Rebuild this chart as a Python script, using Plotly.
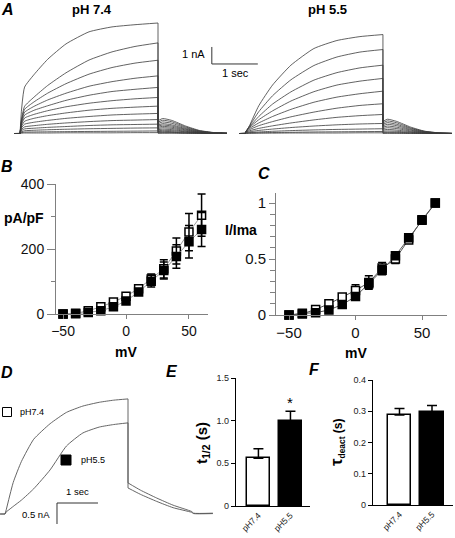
import plotly.graph_objects as go

W, H = 455, 538
FONT = "Liberation Sans, Arial, sans-serif"


def px(x):
    return x / W


def py(y):
    return 1 - y / H


# ---------------- Panel A: current families (nA vs s) ----------------
T_ACT = [0, 0.03, 0.1, 0.3, 0.6, 1.0, 1.5, 2.0, 2.5, 3.0]
T_TAIL = [3.0, 3.1, 3.3, 3.6, 3.9, 4.2, 4.5]

A74_ACT = [
    [0, 1.30, 2.73, 3.45, 4.36, 5.27, 5.98, 6.27, 6.40, 6.50],
    [0, 0.80, 1.60, 2.13, 2.82, 3.57, 4.32, 4.80, 5.12, 5.33],
    [0, 0.73, 1.42, 1.85, 2.37, 2.93, 3.49, 3.88, 4.14, 4.31],
    [0, 0.68, 1.25, 1.59, 1.97, 2.37, 2.78, 3.05, 3.25, 3.39],
    [0, 0.60, 1.08, 1.36, 1.63, 1.95, 2.25, 2.47, 2.60, 2.71],
    [0, 0.53, 0.91, 1.12, 1.34, 1.57, 1.78, 1.93, 2.04, 2.12],
    [0, 0.43, 0.72, 0.89, 1.05, 1.21, 1.37, 1.48, 1.55, 1.61],
    [0, 0.33, 0.55, 0.66, 0.77, 0.89, 1.00, 1.09, 1.14, 1.18],
    [0, 0.24, 0.39, 0.46, 0.54, 0.62, 0.70, 0.76, 0.79, 0.82],
    [0, 0.17, 0.27, 0.31, 0.36, 0.41, 0.47, 0.51, 0.53, 0.55],
    [0, 0.10, 0.16, 0.19, 0.22, 0.25, 0.28, 0.30, 0.32, 0.33],
    [0, 0.05, 0.08, 0.09, 0.10, 0.11, 0.12, 0.13, 0.14, 0.15],
    [0, 0.02, 0.03, 0.03, 0.03, 0.04, 0.04, 0.04, 0.05, 0.05],
]
A74_TAIL = [
    [0.75, 0.88, 0.77, 0.44, 0.18, 0.06, 0.02],
    [0.66, 0.78, 0.69, 0.39, 0.16, 0.05, 0.02],
    [0.58, 0.68, 0.60, 0.34, 0.14, 0.05, 0.01],
    [0.49, 0.58, 0.51, 0.29, 0.12, 0.04, 0.01],
    [0.43, 0.50, 0.44, 0.25, 0.10, 0.04, 0.01],
    [0.36, 0.42, 0.37, 0.21, 0.08, 0.03, 0.01],
    [0.29, 0.34, 0.30, 0.17, 0.07, 0.02, 0.01],
    [0.22, 0.26, 0.23, 0.13, 0.05, 0.02, 0.01],
    [0.16, 0.19, 0.17, 0.10, 0.04, 0.01, 0.00],
    [0.11, 0.13, 0.11, 0.07, 0.03, 0.01, 0.00],
    [0.07, 0.08, 0.07, 0.04, 0.02, 0.01, 0.00],
    [0.03, 0.04, 0.04, 0.02, 0.01, 0.00, 0.00],
    [0.02, 0.02, 0.02, 0.01, 0.00, 0.00, 0.00],
]
A55_ACT = [
    [0, 0.12, 0.47, 1.63, 2.85, 4.02, 5.00, 5.47, 5.70, 5.82],
    [0, 0.15, 0.44, 1.28, 2.22, 3.16, 4.00, 4.50, 4.79, 4.94],
    [0, 0.16, 0.40, 1.00, 1.73, 2.45, 3.14, 3.58, 3.86, 4.02],
    [0, 0.16, 0.36, 0.81, 1.33, 1.91, 2.46, 2.85, 3.08, 3.24],
    [0, 0.15, 0.30, 0.62, 1.00, 1.42, 1.84, 2.14, 2.34, 2.49],
    [0, 0.12, 0.23, 0.46, 0.70, 0.98, 1.26, 1.49, 1.65, 1.75],
    [0, 0.09, 0.16, 0.30, 0.45, 0.62, 0.80, 0.95, 1.05, 1.12],
    [0, 0.06, 0.10, 0.18, 0.26, 0.35, 0.44, 0.51, 0.56, 0.59],
    [0, 0.03, 0.05, 0.09, 0.13, 0.17, 0.21, 0.24, 0.26, 0.28],
    [0, 0.02, 0.03, 0.04, 0.06, 0.07, 0.09, 0.10, 0.11, 0.12],
    [0, 0.01, 0.01, 0.02, 0.02, 0.03, 0.03, 0.03, 0.04, 0.04],
]
A55_TAIL = [
    [0.71, 0.84, 0.71, 0.38, 0.14, 0.04, 0.01],
    [0.63, 0.74, 0.63, 0.33, 0.13, 0.04, 0.01],
    [0.54, 0.64, 0.54, 0.29, 0.11, 0.03, 0.01],
    [0.46, 0.54, 0.46, 0.24, 0.09, 0.03, 0.01],
    [0.37, 0.44, 0.37, 0.20, 0.07, 0.02, 0.00],
    [0.29, 0.34, 0.29, 0.15, 0.06, 0.02, 0.00],
    [0.20, 0.24, 0.20, 0.11, 0.04, 0.01, 0.00],
    [0.13, 0.15, 0.13, 0.07, 0.03, 0.01, 0.00],
    [0.07, 0.08, 0.07, 0.04, 0.01, 0.00, 0.00],
    [0.03, 0.04, 0.03, 0.02, 0.01, 0.00, 0.00],
    [0.01, 0.01, 0.01, 0.00, 0.00, 0.00, 0.00],
]
PH55_SHIFT = 4.89  # horizontal placement of the pH 5.5 family on the shared time axis (s)

# ---------------- Panel B: current density ----------------
MV = [-50, -40, -30, -20, -10, 0, 10, 20, 30, 40, 50, 60]
B_PH74 = [0, 2, 10, 22, 37, 55, 78, 108, 139, 194, 252, 304]
B_PH74_ERR = [1, 2, 4, 5, 6, 8, 10, 15, 28, 40, 57, 65]
B_PH55 = [0, 1, 5, 10, 22, 40, 68, 101, 134, 177, 222, 260]
B_PH55_ERR = [1, 1, 3, 4, 5, 7, 10, 18, 26, 36, 50, 52]

# ---------------- Panel C: normalized current ----------------
C_PH74 = [0, 0.01, 0.05, 0.10, 0.16, 0.22, 0.29, 0.42, 0.50, 0.67, 0.85, 1.0]
C_PH74_ERR = [0, 0.005, 0.01, 0.01, 0.02, 0.05, 0.06, 0.05, 0.04, 0.03, 0.01, 0]
C_PH55 = [0, 0.015, 0.02, 0.045, 0.093, 0.165, 0.28, 0.40, 0.53, 0.69, 0.847, 1.0]
C_PH55_ERR = [0, 0, 0.01, 0.01, 0.02, 0.03, 0.04, 0.04, 0.03, 0.02, 0.01, 0]

# ---------------- Panel D: superimposed traces ----------------
D_T_ACT = [0, 0.03, 0.2, 0.4, 0.7, 1.1, 1.5, 1.9, 2.3, 2.65, 3.0]
D_T_TAIL = [3.0, 3.3, 3.7, 4.1, 4.55, 4.6, 5.07]
D_PH74_ACT = [0, 0.10, 0.75, 1.25, 1.78, 2.15, 2.42, 2.57, 2.66, 2.71, 2.74]
D_PH74_TAIL = [0.74, 0.57, 0.38, 0.21, 0.06, 0.02, 0.02]
D_PH55_ACT = [0, 0.05, 0.18, 0.33, 0.60, 1.05, 1.62, 1.93, 2.07, 2.13, 2.17]
D_PH55_TAIL = [0.62, 0.47, 0.30, 0.15, 0.04, 0.01, 0.01]

# ---------------- Panels E, F: bars ----------------
GROUPS = ["pH7.4", "pH5.5"]
T_HALF = [0.56, 1.0]
T_HALF_ERR = [0.11, 0.11]
TAU_DEACT = [0.288, 0.297]
TAU_DEACT_ERR = [0.021, 0.021]

fig = go.Figure()


def add_family(t_act, acts, t_tail, tails, shift, xa, ya, color, width):
    """Draw a family of sweeps: straight jumps, smooth activation and tail."""
    lx, ly, ax, ay, tx, ty = [], [], [], [], [], []
    for act, tail in zip(acts, tails):
        lx += [shift + t_act[0] - 0.12, shift + t_act[0], shift + t_act[1], None,
               shift + t_act[-1], shift + t_tail[0], None]
        ly += [0, act[0], act[1], None, act[-1], tail[0], None]
        ax += [shift + t for t in t_act[1:]] + [None]
        ay += act[1:] + [None]
        tx += [shift + t for t in t_tail] + [None]
        ty += tail + [None]
    fig.add_trace(go.Scatter(x=lx, y=ly, mode="lines", xaxis=xa, yaxis=ya,
                             line=dict(color=color, width=width),
                             showlegend=False, hoverinfo="skip"))
    for xs, ys in [(ax, ay), (tx, ty)]:
        fig.add_trace(go.Scatter(x=xs, y=ys, mode="lines", xaxis=xa, yaxis=ya,
                                 line=dict(color=color, width=width, shape="spline", smoothing=0.5),
                                 showlegend=False, hoverinfo="skip"))


add_family(T_ACT, A74_ACT, T_TAIL, A74_TAIL, 0.0, "x", "y", "#3a3a3a", 0.8)
add_family(T_ACT, A55_ACT, T_TAIL, A55_TAIL, PH55_SHIFT, "x", "y", "#3a3a3a", 0.8)

# Panel B
for vals, errs, fill in [(B_PH74, B_PH74_ERR, "white"), (B_PH55, B_PH55_ERR, "black")]:
    fig.add_trace(go.Scatter(
        x=MV, y=vals, mode="lines+markers", xaxis="x2", yaxis="y2",
        line=dict(color="#9a9a9a", width=1),
        marker=dict(symbol="square", size=8, color=fill, line=dict(color="black", width=1.5)),
        error_y=dict(type="data", array=errs, color="black", thickness=1.5, width=4),
        cliponaxis=False, showlegend=False))

# Panel C
for vals, errs, fill in [(C_PH74, C_PH74_ERR, "white"), (C_PH55, C_PH55_ERR, "black")]:
    fig.add_trace(go.Scatter(
        x=MV, y=vals, mode="lines+markers", xaxis="x3", yaxis="y3",
        line=dict(color="#555555", width=1),
        marker=dict(symbol="square", size=8, color=fill, line=dict(color="black", width=1.5)),
        error_y=dict(type="data", array=errs, color="black", thickness=1.5, width=4),
        cliponaxis=False, showlegend=False))

# Panel D
add_family(D_T_ACT, [D_PH74_ACT, D_PH55_ACT], D_T_TAIL, [D_PH74_TAIL, D_PH55_TAIL],
           0.0, "x4", "y4", "#555555", 0.9)
# legend keys for D
fig.add_trace(go.Scatter(x=[None], y=[None], mode="markers", name=" ",
                         marker=dict(symbol="square", size=9, color="white",
                                     line=dict(color="black", width=1)),
                         xaxis="x4", yaxis="y4", legend="legend"))
fig.add_trace(go.Scatter(x=[None], y=[None], mode="markers", name=" ",
                         marker=dict(symbol="square", size=10, color="black",
                                     line=dict(color="black", width=1)),
                         xaxis="x4", yaxis="y4", legend="legend2"))

# Panel E
fig.add_trace(go.Bar(
    x=GROUPS, y=T_HALF, xaxis="x5", yaxis="y5", width=0.72,
    marker=dict(color=["white", "black"], line=dict(color="black", width=1.5)),
    error_y=dict(type="data", array=T_HALF_ERR, arrayminus=[0, 0], symmetric=False,
                 color="black", thickness=1.5, width=5),
    showlegend=False))

# Panel F
fig.add_trace(go.Bar(
    x=GROUPS, y=TAU_DEACT, xaxis="x6", yaxis="y6", width=0.72,
    marker=dict(color=["white", "black"], line=dict(color="black", width=1.5)),
    error_y=dict(type="data", array=TAU_DEACT_ERR, arrayminus=[0, 0], symmetric=False,
                 color="black", thickness=1.5, width=5),
    showlegend=False))

hidden = dict(visible=False, showgrid=False, zeroline=False, fixedrange=True)
line_ax = dict(showline=True, linecolor="#808080", linewidth=1, showgrid=False,
               zeroline=False, ticks="outside", tickcolor="#808080",
               tickfont=dict(family=FONT, size=14, color="#111"))
c_ax = {**line_ax, "tickfont": dict(family=FONT, size=15, color="#111")}
bar_y = dict(showline=True, linecolor="black", linewidth=1.2, showgrid=False,
             zeroline=False, tickfont=dict(family=FONT, size=9, color="#222"),
             ticks="outside", ticklen=4, tickcolor="black")
bar_x = dict(showline=True, linecolor="black", linewidth=1.2, showgrid=False,
             zeroline=False, tickfont=dict(family=FONT, size=8.5, color="#222"),
             type="category", tickangle=-45, ticks="", ticklabelstandoff=0)

fig.update_layout(
    width=W, height=H, margin=dict(l=0, r=0, t=0, b=0, autoexpand=False),
    paper_bgcolor="white", plot_bgcolor="white",
    font=dict(family=FONT, color="black"),
    # A
    xaxis=dict(domain=[0, 1], range=[-20 / 46, 435 / 46], **hidden),
    yaxis=dict(domain=[py(140), py(10)], range=[-6.5 / 17, 123.5 / 17], **hidden),
    # B
    xaxis2=dict(domain=[px(56), px(208)], range=[-55.6, 65.1], anchor="y2",
                tickvals=[-50, 0, 50], ticklen=4, **line_ax),
    yaxis2=dict(domain=[py(314), py(184)], range=[0, 400], anchor="x2",
                tickvals=[0, 200, 400], ticklen=8,
                minor=dict(tickvals=[100, 300], ticklen=4, ticks="outside", tickcolor="#808080"),
                **line_ax),
    # C
    xaxis3=dict(domain=[px(276), px(447)], range=[-59.8, 68.8], anchor="y3",
                tickvals=[-50, 0, 50], ticklen=4, **c_ax),
    yaxis3=dict(domain=[py(315), py(193)], range=[0, 1.09], anchor="x3",
                tickvals=[0, 0.5, 1], ticktext=["0", "0.5", "1"], ticklen=6,
                minor=dict(dtick=0.1, ticklen=5, ticks="outside", tickcolor="#808080"),
                **c_ax),
    # D
    xaxis4=dict(domain=[0, px(225)], range=[-5 / 41, 220 / 41], anchor="y4", **hidden),
    yaxis4=dict(domain=[py(530), py(380)], range=[-16 / 42, 134 / 42], anchor="x4", **hidden),
    # E
    xaxis5=dict(domain=[px(236), px(310)], range=[-0.70, 1.61], anchor="y5", **bar_x),
    yaxis5=dict(domain=[py(506), py(378)], range=[0, 1.5], anchor="x5",
                tickvals=[0, 0.5, 1, 1.5], ticktext=["0", "0.5", "1.0", "1.5"], **bar_y),
    # F
    xaxis6=dict(domain=[px(373), px(453)], range=[-0.815, 1.646], anchor="y6", **bar_x),
    yaxis6=dict(domain=[py(505), py(380)], range=[0, 0.4], anchor="x6",
                tickvals=[0, 0.1, 0.2, 0.3, 0.4], ticktext=["0", "0.1", "0.2", "0.3", "0.4"],
                **bar_y),
    bargap=0,
    legend=dict(x=px(-13), y=py(412), xanchor="left", yanchor="middle",
                bgcolor="rgba(0,0,0,0)", font=dict(size=9), itemwidth=30),
    legend2=dict(x=px(46), y=py(460), xanchor="left", yanchor="middle",
                 bgcolor="rgba(0,0,0,0)", font=dict(size=9), itemwidth=30),
)

# Scale bars (layout shapes in data units)
fig.add_shape(type="path", xref="x", yref="y",
              path="M 4.17 5.09 L 4.17 4.09 L 5.17 4.09",
              line=dict(color="#333", width=1))
fig.add_shape(type="path", xref="x4", yref="y4",
              path="M 2.268 0.262 L 1.268 0.262 L 1.268 -0.238",
              line=dict(color="#333", width=1))

ann = []


def label(text, x, y, size, bold=False, italic=False, xanchor="center", angle=0, color="black"):
    t = text
    if bold:
        t = "<b>" + t + "</b>"
    if italic:
        t = "<i>" + t + "</i>"
    ann.append(dict(text=t, x=px(x), y=py(y), xref="paper", yref="paper",
                    xanchor=xanchor, yanchor="middle", showarrow=False,
                    textangle=angle, font=dict(family=FONT, size=size, color=color)))


for letter, x, y in [("A", 7, 10), ("B", 7, 166), ("C", 264, 173),
                     ("D", 7, 372), ("E", 172, 371), ("F", 314, 369)]:
    label(letter, x, y, 16, bold=True, italic=True)

label("pH 7.4", 92, 10, 13, bold=True)
label("pH 5.5", 327, 10, 13, bold=True)
label("1 nA", 207, 54, 11, xanchor="right")
label("1 sec", 235, 73, 11)
label("pA/pF", 24, 218, 14, bold=True)
label("mV", 126, 352, 14, bold=True)
label("I/Ima", 241, 230, 14, bold=True)
label("mV", 356, 353, 14, bold=True)
label("pH7.4", 18, 412, 9, xanchor="left")
label("pH5.5", 79, 460, 9, xanchor="left")
label("1 sec", 77, 492, 9.5)
label("0.5 nA", 52, 514, 9.5, xanchor="right")
label("t<sub>1/2</sub> (s)", 202, 443, 15, bold=True, angle=-90)
label('<span style="font-size:17px">τ</span><sub>deact</sub> (s)', 337, 443, 12, bold=True, angle=-90)

ann.append(dict(text="*", x="pH5.5", y=T_HALF[1] + T_HALF_ERR[1], xref="x5", yref="y5",
                yanchor="bottom", showarrow=False, yshift=-2,
                font=dict(family=FONT, size=15, color="black")))

fig.update_layout(annotations=ann)
# the page's default 8px body margin would offset the whole figure; remove it
fig.write_html("out.html", config={"displayModeBar": False},
               post_script="document.body.style.margin='0px';")
